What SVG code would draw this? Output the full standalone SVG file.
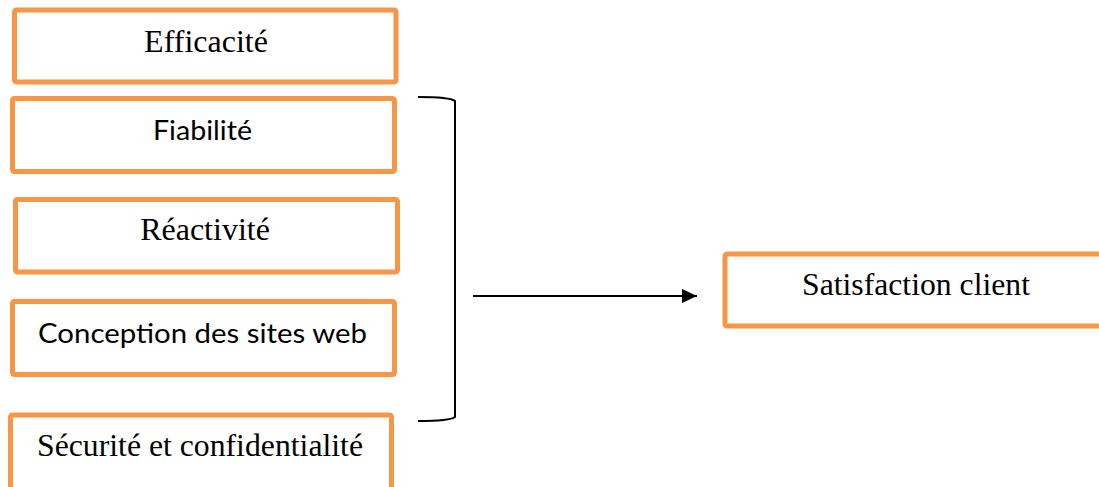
<svg xmlns="http://www.w3.org/2000/svg" width="1099" height="487" viewBox="0 0 1099 487">
  <defs>
    <marker id="arrowhead" markerWidth="15" markerHeight="14" refX="15" refY="7" orient="auto" markerUnits="userSpaceOnUse">
      <polygon points="0,0 15,7 0,14" fill="#000"/>
    </marker>
  </defs>
  <style>
    .box { fill: #ffffff; stroke: #F79646; stroke-width: 5; }
    .serif { font-family: "Liberation Serif", "Times New Roman", serif; font-size: 32px; fill: #000; text-anchor: middle; }
    .sans { font-family: Lato, "Noto Sans", sans-serif; font-size: 27px; fill: #000; text-anchor: middle; }
    .link { fill: none; stroke: #000; stroke-width: 2; }
  </style>
  <rect width="1099" height="487" fill="#ffffff"/>

  <g id="efficacite">
    <rect class="box" x="14.5" y="10" width="381.5" height="72" rx="2"/>
    <text class="serif" x="206" y="52">Efficacité</text>
  </g>
  <g id="fiabilite">
    <rect class="box" x="12.5" y="98.5" width="382" height="73" rx="2"/>
    <text class="sans" x="202.5" y="140" textLength="99" lengthAdjust="spacingAndGlyphs">Fiabilité</text>
  </g>
  <g id="reactivite">
    <rect class="box" x="15.5" y="199.5" width="382" height="72.5" rx="2"/>
    <text class="serif" x="205" y="240">Réactivité</text>
  </g>
  <g id="conception">
    <rect class="box" x="12.5" y="301.5" width="382" height="73" rx="2"/>
    <text class="sans" x="202.5" y="343" textLength="329" lengthAdjust="spacingAndGlyphs">Conception des sites web</text>
  </g>
  <g id="securite">
    <rect class="box" x="10.5" y="415" width="381" height="100" rx="2"/>
    <text class="serif" x="200" y="456" textLength="326" lengthAdjust="spacingAndGlyphs">Sécurité et confidentialité</text>
  </g>
  <g id="satisfaction">
    <rect class="box" x="725" y="254" width="400" height="72" rx="2"/>
    <text class="serif" x="916" y="295" textLength="228" lengthAdjust="spacingAndGlyphs">Satisfaction client</text>
  </g>

  <g id="connectors">
    <path class="link" d="M418,97 Q450,97 455,101 L455,417 Q450,421 418,421"/>
    <line class="link" x1="473" y1="296" x2="697" y2="296" stroke-width="1.5" marker-end="url(#arrowhead)"/>
  </g>
</svg>
